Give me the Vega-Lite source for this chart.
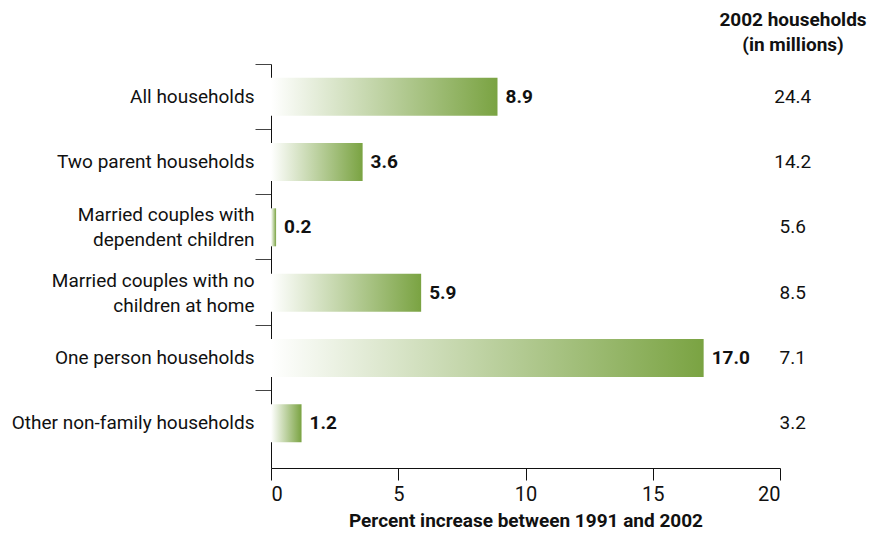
{
  "$schema": "https://vega.github.io/schema/vega-lite/v6.json",
  "autosize": "none",
  "padding": {"left": 271, "top": 64, "right": 94, "bottom": 69},
  "width": 509,
  "height": 404,
  "background": "white",
  "config": {
    "font": "Roboto, sans-serif",
    "view": {"stroke": null}
  },
  "title": {
    "text": ["2002 households", "(in millions)"],
    "anchor": "end",
    "frame": "group",
    "align": "center",
    "dx": 13,
    "offset": 9,
    "fontSize": 19,
    "fontWeight": "bold",
    "lineHeight": 25,
    "color": "#111111"
  },
  "data": {
    "values": [
      {"category": "All households", "increase": 8.9, "households": 24.4},
      {"category": "Two parent households", "increase": 3.6, "households": 14.2},
      {"category": "Married couples with|dependent children", "increase": 0.2, "households": 5.6},
      {"category": "Married couples with no|children at home", "increase": 5.9, "households": 8.5},
      {"category": "One person households", "increase": 17.0, "households": 7.1},
      {"category": "Other non-family households", "increase": 1.2, "households": 3.2}
    ]
  },
  "encoding": {
    "y": {
      "field": "category",
      "type": "nominal",
      "sort": null,
      "scale": {"paddingInner": 0, "paddingOuter": 0.092, "align": 0},
      "axis": {
        "title": null,
        "bandPosition": 0,
        "tickSize": 16,
        "tickColor": "#444444",
        "domainColor": "#111111",
        "labelPadding": 1,
        "labelFontSize": 19,
        "labelColor": "#111111",
        "labelLineHeight": 25,
        "labelLimit": 0,
        "labelOffset": {"condition": {"test": "indexof(datum.value, '|') >= 0", "value": -12}, "value": 0},
        "labelExpr": "split(datum.label, '|')",
        "grid": false
      }
    }
  },
  "layer": [
    {
      "mark": {
        "type": "bar",
        "size": 38,
        "color": {
          "gradient": "linear",
          "x1": 0, "x2": 1, "y1": 0, "y2": 0,
          "stops": [
            {"offset": 0, "color": "#ffffff"},
            {"offset": 1, "color": "#7aa342"}
          ]
        }
      },
      "encoding": {
        "x": {
          "field": "increase",
          "type": "quantitative",
          "scale": {"domain": [0, 20], "nice": false},
          "axis": {
            "title": "Percent increase between 1991 and 2002",
            "values": [0, 5, 10, 15, 20],
            "grid": false,
            "tickSize": 12,
            "tickColor": "#111111",
            "domainColor": "#111111",
            "labelFontSize": 20,
            "labelColor": "#111111",
            "labelPadding": 4,
            "titleFontSize": 19,
            "titleFontWeight": "bold",
            "titleColor": "#111111",
            "titlePadding": 7
          }
        }
      }
    },
    {
      "mark": {"type": "text", "align": "left", "baseline": "middle", "dx": 8, "fontSize": 19, "fontWeight": "bold", "color": "#111111"},
      "encoding": {
        "x": {"field": "increase", "type": "quantitative"},
        "text": {"field": "increase", "type": "quantitative", "format": ".1f"}
      }
    },
    {
      "mark": {"type": "text", "align": "center", "baseline": "middle", "fontSize": 19, "color": "#111111"},
      "encoding": {
        "x": {"datum": 20.5, "type": "quantitative"},
        "text": {"field": "households", "type": "quantitative", "format": ".1f"}
      }
    }
  ]
}
